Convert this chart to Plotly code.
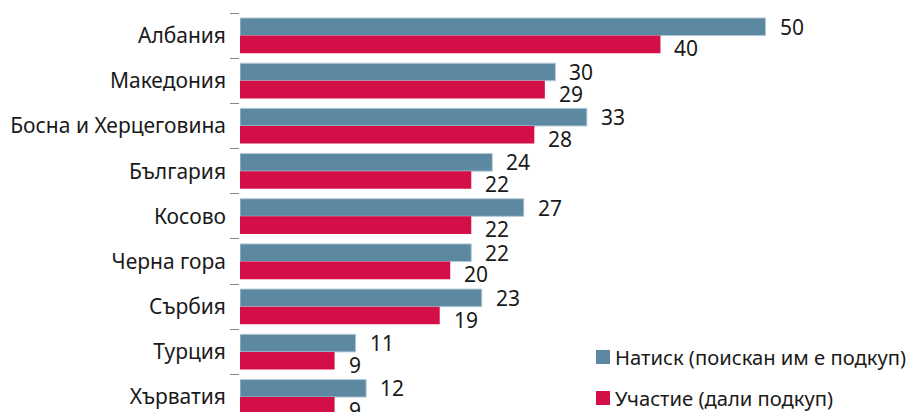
import plotly.graph_objects as go

categories = ["Албания", "Македония", "Босна и Херцеговина", "България", "Косово",
              "Черна гора", "Сърбия", "Турция", "Хърватия"]
pressure = [50, 30, 33, 24, 27, 22, 23, 11, 12]
participation = [40, 29, 28, 22, 22, 20, 19, 9, 9]
series_names = ["Натиск (поискан им е подкуп)", "Участие (дали подкуп)"]

BLUE = "#5C88A1"
RED = "#D40E47"
FONT = "Noto Sans"
TXT = "#1a1a1a"
# page body adds an 8px offset, so the figure is 8px smaller and shifted
OFF = 8
L, W, T, H = 240 - OFF, 678, 13 - OFF, 399

fig = go.Figure()
fig.add_trace(go.Bar(y=categories, x=pressure, orientation="h", name=series_names[0],
                     marker=dict(color=BLUE, line=dict(color="#b4cad8", width=1))))
fig.add_trace(go.Bar(y=categories, x=participation, orientation="h", name=series_names[1],
                     marker=dict(color=RED, line=dict(width=0))))

bar_half = 0.78 / 4
annotations = []
for i, (a, b) in enumerate(zip(pressure, participation)):
    annotations.append(dict(x=a, y=i - bar_half, xref="x", yref="y", text=str(a),
                            showarrow=False, xanchor="left", yanchor="middle", xshift=12,
                            font=dict(size=21, color=TXT, family=FONT)))
    annotations.append(dict(x=b, y=i + bar_half, xref="x", yref="y", text=str(b),
                            showarrow=False, xanchor="left", yanchor="middle", xshift=12, yshift=-4,
                            font=dict(size=21, color=TXT, family=FONT)))

# manual legend (reference pixel coords converted to paper coords)
shapes = []
for k, (name, col) in enumerate(zip(series_names, [BLUE, RED])):
    yc = 357 + 41 * k
    shapes.append(dict(type="rect", xref="paper", yref="paper",
                       x0=(596 - 240) / W, x1=(610 - 240) / W,
                       y0=(412 - yc - 7) / H, y1=(412 - yc + 7) / H,
                       fillcolor=col, line=dict(width=0)))
    annotations.append(dict(x=(613 - 240) / W, y=(412 - yc) / H, xref="paper", yref="paper",
                            text=name, showarrow=False, xanchor="left", yanchor="middle",
                            font=dict(size=20.2, color=TXT, family=FONT)))

fig.update_layout(
    width=L + W, height=T + H,
    margin=dict(l=L, r=0, t=T, b=0, pad=0, autoexpand=False),
    barmode="group", bargap=0.22, bargroupgap=0,
    plot_bgcolor="white", paper_bgcolor="white",
    showlegend=False,
    font=dict(family=FONT, size=21, color=TXT),
    annotations=annotations, shapes=shapes,
    xaxis=dict(range=[0, 64.5], visible=False, showgrid=False, zeroline=False, automargin=False),
    yaxis=dict(type="category", range=[8.33, -0.5], tickson="boundaries", automargin=False,
               ticks="outside", ticklen=9, tickwidth=1, tickcolor="#888888",
               showline=False, showgrid=False, zeroline=False,
               ticklabelstandoff=13,
               tickfont=dict(size=21, color=TXT, family=FONT)),
)
fig.write_html("out.html")
